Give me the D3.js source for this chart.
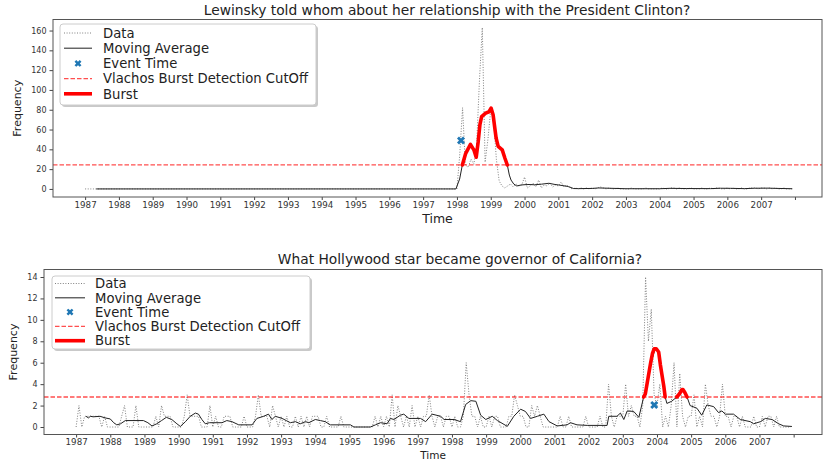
<!DOCTYPE html>
<html>
<head>
<meta charset="utf-8">
<script src="https://cdn.jsdelivr.net/npm/d3@7"></script>
<style>
  body { margin: 0; background: #fff; }
  text { font-family: "DejaVu Sans", sans-serif; }
</style>
</head>
<body>
<script>
const width = 825;
const height = 462;

const startYear = 1987;
const yearTicks = [1987, 1988, 1989, 1990, 1991, 1992, 1993, 1994, 1995, 1996, 1997,
  1998, 1999, 2000, 2001, 2002, 2003, 2004, 2005, 2006, 2007, 2008];
const yearLabels = ["1987", "1988", "1989", "1990", "1991", "1992", "1993", "1994", "1995", "1996", "1997",
  "1998", "1999", "2000", "2001", "2002", "2003", "2004", "2005", "2006", "2007", ""];
const legendLabels = ["Data", "Moving Average", "Event Time", "Vlachos Burst Detection CutOff", "Burst"];

// monthly counts, one row per year starting 1987
const lewinskyData = [
  [0, 0, 0, 0, 0, 0, 0, 0, 0, 0, 0, 0],
  [0, 0, 0, 0, 0, 0, 0, 0, 0, 0, 0, 0],
  [0, 0, 0, 0, 0, 0, 0, 0, 0, 0, 0, 0],
  [0, 0, 0, 0, 0, 0, 0, 0, 0, 0, 0, 0],
  [0, 0, 0, 0, 0, 0, 0, 0, 0, 0, 0, 0],
  [0, 0, 0, 0, 0, 0, 0, 0, 0, 0, 0, 0],
  [0, 0, 0, 0, 0, 0, 0, 0, 0, 0, 0, 0],
  [0, 0, 0, 0, 0, 0, 0, 0, 0, 0, 0, 0],
  [0, 0, 0, 0, 0, 0, 0, 0, 0, 0, 0, 0],
  [0, 0, 0, 0, 0, 0, 0, 0, 0, 0, 0, 0],
  [0, 0, 0, 0, 0, 0, 0, 0, 0, 0, 0, 0],
  [0, 35, 82, 24, 22, 30, 25, 45, 110, 163, 27, 50],
  [80, 70, 30, 8, 3, 1, 3, 5, 2, 5, 3, 4],
  [12, 1, 3, 6, 2, 9, 1, 4, 3, 6, 2, 4],
  [3, 7, 2, 4, 1, 0, 1, 0, 1, 0, 1, 0],
  [1, 0, 1, 2, 1, 0, 1, 0, 0, 1, 0, 0],
  [0, 0, 1, 0, 0, 0, 0, 1, 0, 0, 0, 0],
  [0, 1, 0, 0, 1, 1, 0, 1, 0, 0, 0, 1],
  [0, 0, 0, 1, 0, 0, 1, 0, 1, 1, 0, 0],
  [1, 0, 1, 0, 0, 1, 0, 0, 1, 1, 1, 0],
  [1, 1, 0, 1, 0, 1, 0, 0, 1, 0, 0, 0]
];
const lewinskyAvg = [
  [1987.33, 0], [1997.97, 0], [1998.08, 10], [1998.16, 24.2], [1998.26, 36], [1998.4, 45],
  [1998.5, 39.5], [1998.57, 32], [1998.63, 48], [1998.68, 65], [1998.73, 73], [1998.85, 76.6],
  [1998.95, 78], [1999.01, 81.7], [1999.07, 75], [1999.12, 61.5], [1999.16, 51.3], [1999.22, 43],
  [1999.34, 39.5], [1999.42, 31], [1999.49, 24.2], [1999.55, 14], [1999.6, 9], [1999.68, 5],
  [1999.77, 3], [1999.9, 4], [2000.1, 4.5], [2000.3, 4.2], [2000.5, 4.8], [2000.72, 5.7],
  [2000.9, 4.5], [2001.01, 4], [2001.3, 2.4], [2001.45, 0.4], [2001.6, 0.3], [2002.0, 0.5],
  [2002.19, 1], [2002.5, 0.7], [2003.0, 0.2], [2004.0, 0.2], [2004.3, 0.6], [2004.8, 0.4],
  [2005.5, 0.3], [2005.8, 0.7], [2006.1, 0.6], [2006.5, 0.3], [2006.8, 0.7], [2007.2, 0.8],
  [2007.5, 0.5], [2007.92, 0.2]
];
const lewinskyBurst = [
  [[1998.16, 24.2], [1998.26, 36], [1998.4, 45], [1998.5, 39.5], [1998.57, 32], [1998.63, 48],
   [1998.68, 65], [1998.73, 73], [1998.85, 76.6], [1998.95, 78], [1999.01, 81.7], [1999.07, 75],
   [1999.12, 61.5], [1999.16, 51.3], [1999.22, 43], [1999.34, 39.5], [1999.42, 31], [1999.49, 24.2]]
];
const lewinskyEvent = [1998.12, 49];
const lewinskyCutoff = 24.3;
const lewinskyYTicks = [0, 20, 40, 60, 80, 100, 120, 140, 160];

const hollywoodData = [
  [0, 2, 0, 1, 1, 1, 1, 1, 1, 0, 1, 0],
  [0, 0, 0, 0, 1, 2, 0, 0, 0, 2, 0, 0],
  [0, 0, 0, 0, 1, 0, 2, 1, 1, 1, 0, 0],
  [0, 0, 1, 3, 1, 1, 1, 1, 0, 0, 0, 2],
  [0, 1, 0, 0, 1, 1, 1, 0, 0, 0, 0, 1],
  [0, 0, 0, 1, 3, 1, 1, 1, 0, 2, 1, 0],
  [1, 0, 1, 0, 0, 1, 0, 1, 0, 1, 0, 1],
  [1, 1, 0, 0, 1, 0, 0, 0, 0, 1, 0, 0],
  [0, 0, 0, 0, 0, 0, 0, 0, 0, 1, 0, 1],
  [0, 1, 0, 3, 0, 2, 1, 0, 1, 0, 2, 0],
  [1, 0, 1, 1, 3, 1, 0, 1, 1, 0, 1, 1],
  [0, 1, 0, 0, 1, 6, 3, 1, 1, 0, 1, 0],
  [0, 1, 0, 1, 1, 0, 0, 0, 1, 1, 3, 2],
  [1, 1, 0, 0, 2, 1, 2, 1, 0, 0, 0, 0],
  [0, 0, 1, 0, 0, 1, 0, 0, 0, 0, 0, 1],
  [0, 0, 0, 0, 1, 0, 0, 4, 1, 0, 1, 1],
  [1, 4, 1, 2, 1, 1, 0, 2, 14, 8, 11, 3],
  [2, 4, 0, 1, 0, 2, 6, 0, 5, 1, 0, 1],
  [1, 3, 0, 1, 0, 4, 2, 1, 1, 0, 1, 4],
  [1, 1, 0, 1, 1, 0, 1, 0, 0, 0, 1, 0],
  [0, 1, 0, 1, 1, 0, 1, 0, 0, 0, 0, 0]
];
const hollywoodAvg = [
  [1987.29, 1.0], [1987.36, 0.85], [1987.42, 1.0], [1987.5, 0.95], [1987.7, 1.0], [1987.85, 0.85],
  [1988.0, 0.75], [1988.1, 0.4], [1988.19, 0.2], [1988.3, 0.3], [1988.44, 0.6], [1988.97, 0.6],
  [1989.1, 0.4], [1989.22, 0.1], [1989.36, 0.3], [1989.5, 0.6], [1989.64, 0.9], [1989.8, 0.7],
  [1989.95, 0.3], [1990.05, 0.05], [1990.2, 0.5], [1990.34, 1.0], [1990.49, 1.3], [1990.58, 1.2],
  [1990.68, 0.7], [1990.78, 0.3], [1990.9, 0.4], [1991.27, 0.4], [1991.41, 0.6], [1991.56, 0.5],
  [1991.76, 0.2], [1992.15, 0.2], [1992.29, 0.8], [1992.49, 1.0], [1992.63, 1.2], [1992.73, 0.7],
  [1992.83, 1.0], [1993.03, 0.8], [1993.15, 0.6], [1993.27, 0.4], [1993.42, 0.5], [1993.56, 0.3],
  [1993.71, 0.5], [1993.81, 0.4], [1994.0, 0.7], [1994.15, 0.6], [1994.29, 0.5], [1994.44, 0.2],
  [1995.03, 0.2], [1995.13, 0], [1995.61, 0], [1995.76, 0.2], [1995.91, 0.4], [1996.1, 0.3],
  [1996.2, 0.8], [1996.3, 0.7], [1996.49, 1.1], [1996.59, 1.2], [1996.74, 0.8], [1997.08, 0.8],
  [1997.23, 0.5], [1997.42, 1.2], [1997.67, 1.0], [1997.77, 0.7], [1998.06, 0.7], [1998.25, 0.5],
  [1998.4, 2.1], [1998.55, 2.46], [1998.7, 2.4], [1998.84, 1.1], [1998.99, 0.7], [1999.18, 1.0],
  [1999.33, 0.6], [1999.62, 0.06], [1999.81, 1.0], [2000.01, 1.66], [2000.15, 1.45], [2000.3, 0.8],
  [2000.5, 1.0], [2000.69, 1.2], [2000.84, 0.5], [2001.08, 0.1], [2001.37, 0.2], [2001.47, 0.4],
  [2001.66, 0.2], [2001.96, 0.15], [2002.54, 0.15], [2002.59, 1.0], [2002.83, 1.0], [2002.93, 1.3],
  [2003.03, 0.7], [2003.13, 1.5], [2003.32, 1.45], [2003.47, 0.9], [2003.61, 2.8], [2003.66, 3.1],
  [2003.81, 5.9], [2003.95, 7.3], [2004.05, 7.1], [2004.14, 5.0], [2004.24, 2.8], [2004.29, 2.2],
  [2004.43, 2.4], [2004.58, 2.8], [2004.76, 3.5], [2004.88, 2.8], [2004.97, 2.0], [2005.17, 1.75],
  [2005.31, 1.1], [2005.46, 2.06], [2005.66, 1.9], [2005.8, 1.35], [2005.9, 1.5], [2006.0, 1.2],
  [2006.24, 1.2], [2006.44, 0.7], [2006.73, 0.5], [2006.83, 0.3], [2007.03, 0.5], [2007.17, 0.8],
  [2007.37, 0.7], [2007.56, 0.3], [2007.71, 0.1], [2007.95, 0.05]
];
const hollywoodBurst = [
  [[2003.61, 2.8], [2003.66, 3.1], [2003.74, 4.6], [2003.81, 5.9], [2003.87, 6.9], [2003.92, 7.3],
   [2003.98, 7.3], [2004.05, 7.0], [2004.1, 5.8], [2004.14, 5.0], [2004.2, 3.8], [2004.24, 2.8]],
  [[2004.58, 2.8], [2004.66, 3.1], [2004.72, 3.45], [2004.76, 3.5], [2004.82, 3.2], [2004.88, 2.8]]
];
const hollywoodEvent = [2003.92, 2.05];
const hollywoodCutoff = 2.8;
const hollywoodYTicks = [0, 2, 4, 6, 8, 10, 12, 14];

const svg = d3.select("body").append("svg")
  .attr("width", width)
  .attr("height", height)
  .attr("viewBox", [0, 0, width, height]);

function monthly(rows) {
  return rows.flat().map((v, i) => [startYear + i / 12, v]);
}

function drawPanel(p) {
  const g = svg.append("g");
  const x = d3.scaleLinear().domain(p.xDomain).range([p.left, p.right]);
  const y = d3.scaleLinear().domain(p.yDomain).range([p.bottom, p.top]);
  const line = d3.line().x(d => x(d[0])).y(d => y(d[1]));

  // x axis
  const xa = g.append("g")
    .attr("transform", "translate(0," + p.bottom + ")")
    .call(d3.axisBottom(x).tickValues(yearTicks).tickFormat((d, i) => yearLabels[i])
      .tickSize(3).tickPadding(1.5));
  xa.select(".domain").remove();
  xa.selectAll("line").attr("stroke", "#444");
  xa.selectAll("text").attr("font-size", "8.7px").attr("fill", "#333")
    .style("font-family", "DejaVu Sans");

  // y axis
  const ya = g.append("g")
    .attr("transform", "translate(" + p.left + ",0)")
    .call(d3.axisLeft(y).tickValues(p.yTicks).tickSize(3.5).tickPadding(3));
  ya.select(".domain").remove();
  ya.selectAll("line").attr("stroke", "#444");
  ya.selectAll("text").attr("font-size", "8px").attr("fill", "#333")
    .style("font-family", "DejaVu Sans");

  // series
  g.append("path")
    .datum(monthly(p.data))
    .attr("d", line)
    .attr("fill", "none")
    .attr("stroke", "#808080")
    .attr("stroke-width", 1)
    .attr("stroke-dasharray", "1 1.6");

  g.append("path")
    .datum(p.avg)
    .attr("d", line)
    .attr("fill", "none")
    .attr("stroke", "#222")
    .attr("stroke-width", 1);

  g.append("path")
    .attr("d", d3.symbol(d3.symbolCross, 40)())
    .attr("transform", "translate(" + x(p.event[0]) + "," + y(p.event[1]) + ") rotate(45)")
    .attr("fill", "#1f77b4");

  g.append("line")
    .attr("x1", p.left).attr("x2", p.right)
    .attr("y1", y(p.cutoff)).attr("y2", y(p.cutoff))
    .attr("stroke", "#ff3030")
    .attr("stroke-opacity", 0.85)
    .attr("stroke-width", 1.3)
    .attr("stroke-dasharray", "4.5 2");

  g.selectAll("path.burst")
    .data(p.burst)
    .enter()
    .append("path")
    .attr("class", "burst")
    .attr("d", line)
    .attr("fill", "none")
    .attr("stroke", "#ff0000")
    .attr("stroke-width", 3.6)
    .attr("stroke-linejoin", "round")
    .attr("stroke-linecap", "round");

  // frame
  g.append("rect")
    .attr("x", p.left).attr("y", p.top)
    .attr("width", p.right - p.left).attr("height", p.bottom - p.top)
    .attr("fill", "none")
    .attr("stroke", "#555")
    .attr("stroke-width", 1);

  // labels
  g.append("text")
    .attr("x", p.titleX).attr("y", p.titleY)
    .attr("text-anchor", "middle")
    .attr("font-size", "13.8px")
    .attr("fill", "#222")
    .text(p.title);

  g.append("text")
    .attr("x", (p.left + p.right) / 2).attr("y", p.timeY)
    .attr("text-anchor", "middle")
    .attr("font-size", p.timeSize)
    .attr("fill", "#222")
    .text("Time");

  g.append("text")
    .attr("transform", "translate(" + p.ylabelX + "," + (p.top + p.bottom) / 2 + ") rotate(-90)")
    .attr("text-anchor", "middle")
    .attr("font-size", "11px")
    .attr("fill", "#222")
    .text("Frequency");

  // legend
  const L = p.legend;
  const lg = g.append("g");
  lg.append("rect")
    .attr("x", L.x + 2).attr("y", L.y + 2).attr("width", L.w).attr("height", L.h)
    .attr("rx", 3).attr("fill", "#888").attr("fill-opacity", 0.45);
  lg.append("rect")
    .attr("x", L.x).attr("y", L.y).attr("width", L.w).attr("height", L.h)
    .attr("rx", 3).attr("fill", "#fff").attr("stroke", "#ccc").attr("stroke-width", 1);

  const rowY = i => L.y + L.first + i * L.step;
  const h0 = L.hx0, h1 = L.hx1;
  lg.append("line").attr("x1", h0).attr("x2", h1).attr("y1", rowY(0)).attr("y2", rowY(0))
    .attr("stroke", "#808080").attr("stroke-dasharray", "1 1.6");
  lg.append("line").attr("x1", h0).attr("x2", h1).attr("y1", rowY(1)).attr("y2", rowY(1))
    .attr("stroke", "#333").attr("stroke-width", 1.1);
  lg.append("path")
    .attr("d", d3.symbol(d3.symbolCross, 30)())
    .attr("transform", "translate(" + (h0 + h1) / 2 + "," + rowY(2) + ") rotate(45)")
    .attr("fill", "#1f77b4");
  lg.append("line").attr("x1", h0).attr("x2", h1).attr("y1", rowY(3)).attr("y2", rowY(3))
    .attr("stroke", "#ff3030").attr("stroke-opacity", 0.85).attr("stroke-width", 1.3)
    .attr("stroke-dasharray", "4.5 2");
  lg.append("line").attr("x1", h0).attr("x2", h1).attr("y1", rowY(4)).attr("y2", rowY(4))
    .attr("stroke", "#ff0000").attr("stroke-width", 3.6);

  lg.selectAll("text.leg")
    .data(legendLabels)
    .enter()
    .append("text")
    .attr("class", "leg")
    .attr("x", L.tx)
    .attr("y", (d, i) => rowY(i))
    .attr("dy", "0.36em")
    .attr("font-size", "13.2px")
    .attr("fill", "#222")
    .text(d => d);
}

drawPanel({
  title: "Lewinsky told whom about her relationship with the President Clinton?",
  titleX: 447, titleY: 15,
  left: 53, right: 822, top: 19.5, bottom: 197,
  xDomain: [1986.05, 2008.8],
  yDomain: [-8.15, 171.15],
  yTicks: lewinskyYTicks,
  ylabelX: 21, timeY: 223, timeSize: "12.5px",
  data: lewinskyData, avg: lewinskyAvg, burst: lewinskyBurst,
  event: lewinskyEvent, cutoff: lewinskyCutoff,
  legend: { x: 60, y: 24, w: 256, h: 81, first: 9, step: 15.2, hx0: 64, hx1: 92, tx: 103 }
});

drawPanel({
  title: "What Hollywood star became governor of California?",
  titleX: 460, titleY: 264,
  left: 44, right: 822, top: 269.5, bottom: 434.5,
  xDomain: [1986.06, 2008.83],
  yDomain: [-0.7, 14.7],
  yTicks: hollywoodYTicks,
  ylabelX: 17, timeY: 459, timeSize: "10.5px",
  data: hollywoodData, avg: hollywoodAvg, burst: hollywoodBurst,
  event: hollywoodEvent, cutoff: hollywoodCutoff,
  legend: { x: 52, y: 276, w: 258, h: 73, first: 7.5, step: 14.3, hx0: 55, hx1: 85, tx: 95 }
});
</script>
</body>
</html>
